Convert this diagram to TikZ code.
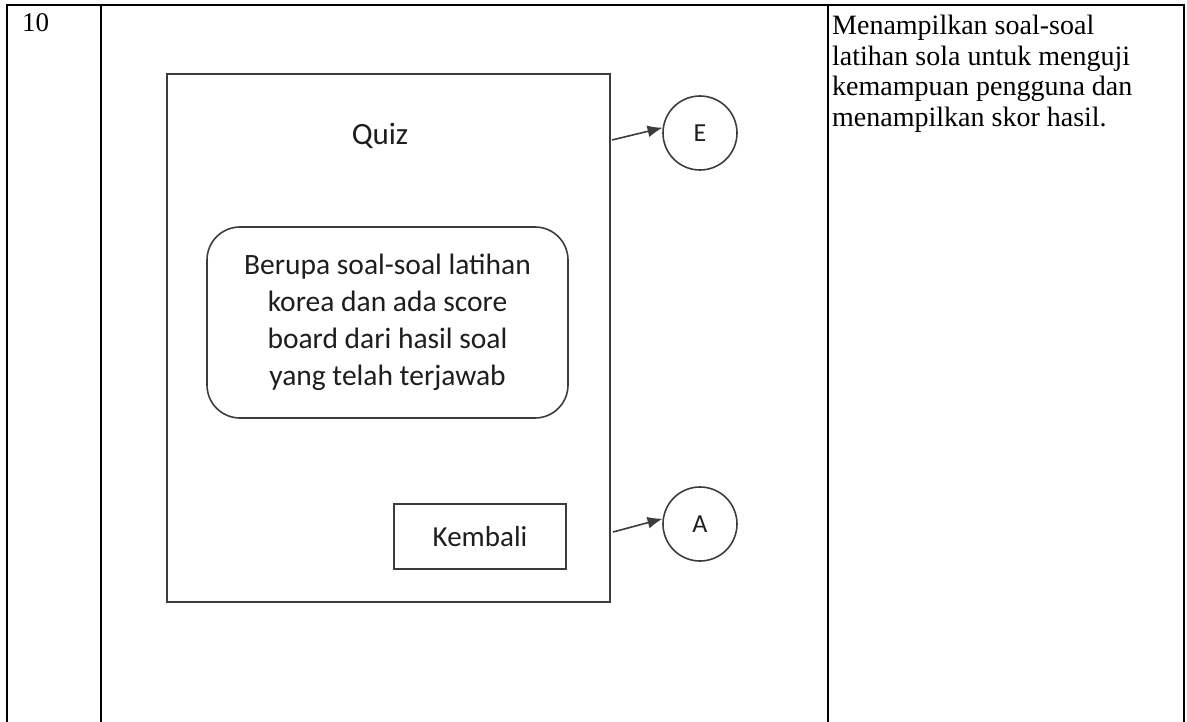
\documentclass[tikz,border=0pt]{standalone}
\usepackage{fontspec}
\setmainfont{Liberation Serif}
\newfontfamily\diagfont{Carlito}
\usetikzlibrary{arrows.meta}
\definecolor{framegray}{RGB}{60,60,60}
\definecolor{textgray}{RGB}{30,30,30}

\tikzset{
  tableline/.style={line width=2pt, black},
  screen/.style={draw=framegray, line width=2pt, minimum width=443pt, minimum height=528pt, inner sep=0pt},
  infobox/.style={draw=framegray, line width=1.6pt, rounded corners=33pt, minimum width=361pt,
    minimum height=191pt, align=center, text=textgray, font=\diagfont\fontsize{29.5}{37}\selectfont},
  button/.style={draw=framegray, line width=1.6pt, minimum width=172pt, minimum height=65pt,
    text=textgray, font=\diagfont\fontsize{29}{34}\selectfont},
  connector/.style={draw=framegray, circle, line width=1.6pt, minimum size=74pt, inner sep=0pt,
    text=textgray, font=\diagfont\fontsize{26}{30}\selectfont},
  link/.style={-{Latex[length=15pt,width=12pt]}, line width=1.6pt, framegray}
}

\begin{document}
\begin{tikzpicture}[x=1pt,y=-1pt]
    \useasboundingbox (0,0) rectangle (1187,722);

    % Table grid
    \draw[tableline] (7,5) -- (115,5);
    \draw[line width=1.3pt] (115,5) -- (792,5);
    \draw[tableline] (792,5) -- (1184,5);
    \foreach \x in {7,101,828,1184} {
        \draw[tableline] (\x,4) -- (\x,722);
    }

    % Table texts
    \node[anchor=base west, inner sep=0pt, font=\fontsize{27}{30}\selectfont] (num) at (22,32) {10};
    \node[anchor=north west, inner sep=0pt, align=left, font=\fontsize{28}{30.5}\selectfont] (desc) at (832,15)
        {Menampilkan soal-soal\\latihan sola untuk menguji\\kemampuan pengguna dan\\menampilkan skor hasil.};

    % Screen mockup
    \node[screen] (quiz) at (388.5,338) {};
    \node[text=textgray, font=\diagfont\fontsize{31}{34}\selectfont] (title) at (380,136) {Quiz};
    \node[infobox] (info) at (387.5,322.5)
        {Berupa soal-soal latihan\\korea dan ada score\\board dari hasil soal\\yang telah terjawab};
    \node[button] (back) at (480,536.5) {Kembali};

    % Off-page connectors
    \node[connector] (E) at (700,133) {E};
    \node[connector] (A) at (700,524) {A};
    \coordinate (toE) at (612,140);
    \coordinate (toA) at (613,532);
    \draw[link] (toE) -- (E.172);
    \draw[link] (toA) -- (A.172);
\end{tikzpicture}
\end{document}
